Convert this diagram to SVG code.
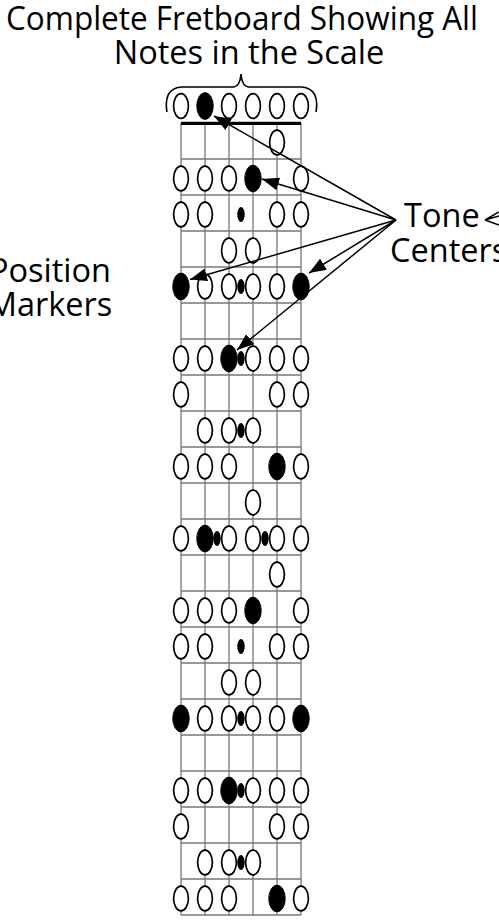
<svg xmlns="http://www.w3.org/2000/svg" width="499" height="920" viewBox="0 0 499 920">
<style>
.t{font-family:"Open Sans","Liberation Sans",sans-serif;font-size:32.5px;fill:#000}
.g{stroke:#777;stroke-width:1.3;fill:none}
.o{fill:#fff;stroke:#000;stroke-width:1.7}
.f{fill:#000;stroke:#000;stroke-width:0.8}
.d{fill:#000}
.a{stroke:#000;stroke-width:1.5;fill:none}
</style>
<defs>
<marker id="ah" markerUnits="userSpaceOnUse" markerWidth="17" markerHeight="13" refX="17" refY="6.5" orient="auto">
<path d="M0,0 L17,6.5 L0,13 z" fill="#000"/>
</marker>
<ellipse id="O" class="o" cx="0" cy="0" rx="7.4" ry="12.4"/>
<ellipse id="F" class="f" cx="0" cy="0" rx="8.3" ry="13.4"/>
<ellipse id="D" class="d" cx="0" cy="0" rx="3.7" ry="7.6"/>
</defs>
<g id="title">
<text class="t" x="242" y="30" text-anchor="middle" textLength="472" lengthAdjust="spacingAndGlyphs">Complete Fretboard Showing All</text>
<text class="t" x="249" y="64" text-anchor="middle">Notes in the Scale</text>
</g>
<g id="label-tone-centers">
<text class="t" x="404" y="227">Tone</text>
<text class="t" x="390" y="262">Centers</text>
</g>
<g id="label-position-markers">
<text class="t" x="50" y="282" text-anchor="middle">Position</text>
<text class="t" x="50" y="316" text-anchor="middle">Markers</text>
</g>
<g id="brace">
<path d="M167,112 Q163,89 181,87 L234,87 Q240,86 241,74 Q242,86 248,87 L302,87 Q320,89 316,112" fill="none" stroke="#000" stroke-width="1.6"/>
</g>
<g id="fretboard">
<path class="g" d="M181,123V915M205,123V915M229,123V915M253,123V915M277,123V915M301,123V915"/>
<path class="g" d="M181,159H301M181,195H301M181,231H301M181,267H301M181,303H301M181,339H301M181,375H301M181,411H301M181,447H301M181,483H301M181,519H301M181,555H301M181,591H301M181,627H301M181,663H301M181,699H301M181,735H301M181,771H301M181,807H301M181,843H301M181,879H301M181,915H301"/>
<line x1="181" y1="123.3" x2="301" y2="123.3" stroke="#000" stroke-width="3.3"/>
</g>
<g id="notes">
<use href="#O" x="181" y="106"/><use href="#F" x="205" y="106"/><use href="#O" x="229" y="106"/><use href="#O" x="253" y="106"/><use href="#O" x="277" y="106"/><use href="#O" x="301" y="106"/>
<use href="#O" x="277" y="142.5"/>
<use href="#O" x="181" y="178.5"/><use href="#O" x="205" y="178.5"/><use href="#O" x="229" y="178.5"/><use href="#F" x="253" y="178.5"/><use href="#O" x="301" y="178.5"/>
<use href="#O" x="181" y="214.5"/><use href="#O" x="205" y="214.5"/><use href="#O" x="277" y="214.5"/><use href="#O" x="301" y="214.5"/><use href="#D" x="241" y="214.5"/>
<use href="#O" x="229" y="250.5"/><use href="#O" x="253" y="250.5"/>
<use href="#F" x="181" y="286.5"/><use href="#O" x="205" y="286.5"/><use href="#O" x="229" y="286.5"/><use href="#O" x="253" y="286.5"/><use href="#O" x="277" y="286.5"/><use href="#F" x="301" y="286.5"/><use href="#D" x="241" y="286.5"/>
<use href="#O" x="181" y="358.5"/><use href="#O" x="205" y="358.5"/><use href="#F" x="229" y="358.5"/><use href="#O" x="253" y="358.5"/><use href="#O" x="277" y="358.5"/><use href="#O" x="301" y="358.5"/><use href="#D" x="241" y="358.5"/>
<use href="#O" x="181" y="394.5"/><use href="#O" x="277" y="394.5"/><use href="#O" x="301" y="394.5"/>
<use href="#O" x="205" y="430.5"/><use href="#O" x="229" y="430.5"/><use href="#O" x="253" y="430.5"/><use href="#D" x="241" y="430.5"/>
<use href="#O" x="181" y="466.5"/><use href="#O" x="205" y="466.5"/><use href="#O" x="229" y="466.5"/><use href="#F" x="277" y="466.5"/><use href="#O" x="301" y="466.5"/>
<use href="#O" x="253" y="502.5"/>
<use href="#O" x="181" y="538.5"/><use href="#F" x="205" y="538.5"/><use href="#O" x="229" y="538.5"/><use href="#O" x="253" y="538.5"/><use href="#O" x="277" y="538.5"/><use href="#O" x="301" y="538.5"/><use href="#D" x="217" y="538.5"/><use href="#D" x="265" y="538.5"/>
<use href="#O" x="277" y="574.5"/>
<use href="#O" x="181" y="610.5"/><use href="#O" x="205" y="610.5"/><use href="#O" x="229" y="610.5"/><use href="#F" x="253" y="610.5"/><use href="#O" x="301" y="610.5"/>
<use href="#O" x="181" y="646.5"/><use href="#O" x="205" y="646.5"/><use href="#O" x="277" y="646.5"/><use href="#O" x="301" y="646.5"/><use href="#D" x="241" y="646.5"/>
<use href="#O" x="229" y="682.5"/><use href="#O" x="253" y="682.5"/>
<use href="#F" x="181" y="718.5"/><use href="#O" x="205" y="718.5"/><use href="#O" x="229" y="718.5"/><use href="#O" x="253" y="718.5"/><use href="#O" x="277" y="718.5"/><use href="#F" x="301" y="718.5"/><use href="#D" x="241" y="718.5"/>
<use href="#O" x="181" y="790.5"/><use href="#O" x="205" y="790.5"/><use href="#F" x="229" y="790.5"/><use href="#O" x="253" y="790.5"/><use href="#O" x="277" y="790.5"/><use href="#O" x="301" y="790.5"/><use href="#D" x="241" y="790.5"/>
<use href="#O" x="181" y="826.5"/><use href="#O" x="277" y="826.5"/><use href="#O" x="301" y="826.5"/>
<use href="#O" x="205" y="862.5"/><use href="#O" x="229" y="862.5"/><use href="#O" x="253" y="862.5"/><use href="#D" x="241" y="862.5"/>
<use href="#O" x="181" y="898.5"/><use href="#O" x="205" y="898.5"/><use href="#O" x="229" y="898.5"/><use href="#F" x="277" y="898.5"/><use href="#O" x="301" y="898.5"/>
</g>
<g id="connectors">
<line class="a" x1="396" y1="220" x2="214" y2="116" marker-end="url(#ah)"/>
<line class="a" x1="396" y1="220" x2="262" y2="179" marker-end="url(#ah)"/>
<line class="a" x1="396" y1="220" x2="190" y2="279.5" marker-end="url(#ah)"/>
<line class="a" x1="396" y1="220" x2="309" y2="273" marker-end="url(#ah)"/>
<line class="a" x1="396" y1="220" x2="237" y2="350" marker-end="url(#ah)"/>
<path class="a" d="M499,212 L485,220 L499,216 M485,220 L499,225"/>
</g>
</svg>
